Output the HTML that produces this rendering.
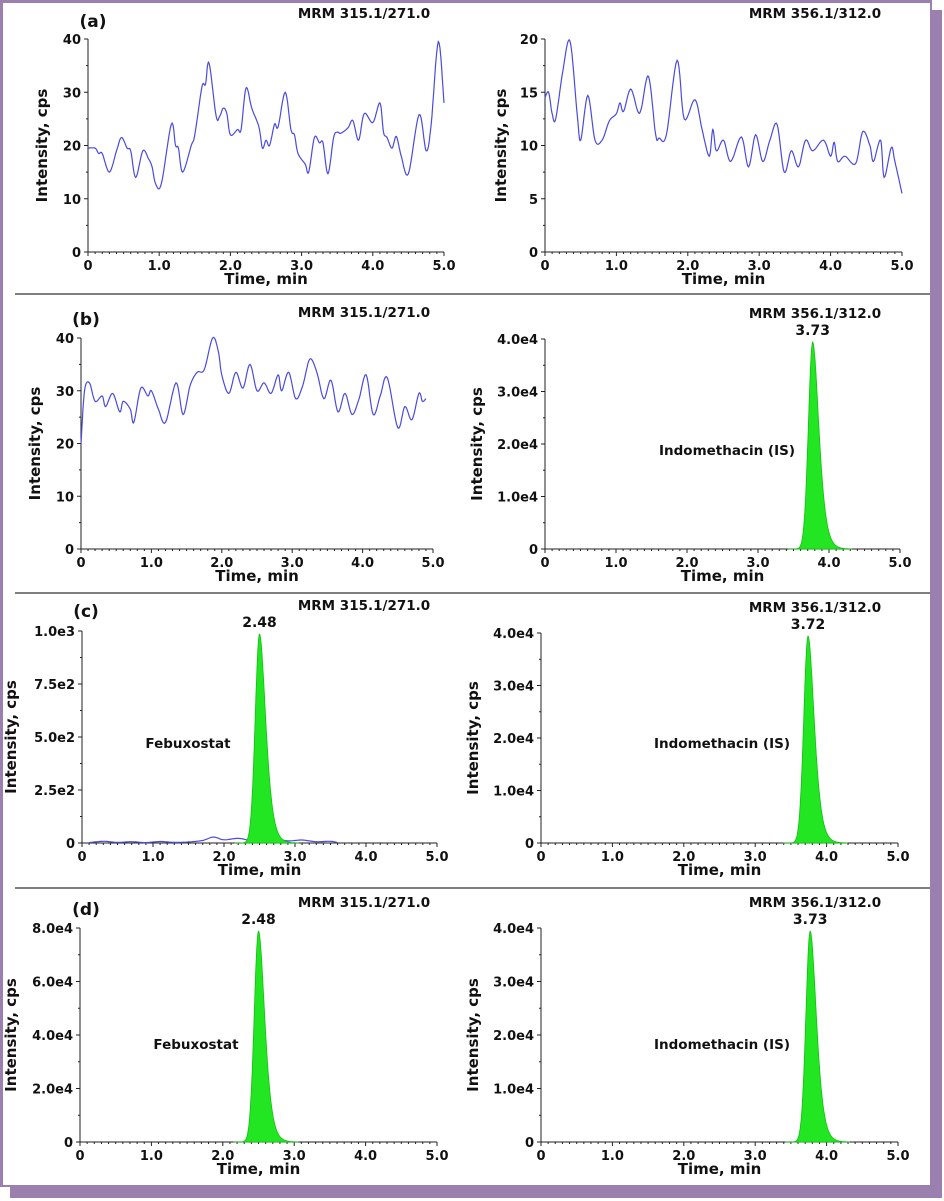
<!DOCTYPE html>
<html><head><meta charset="utf-8"><style>
html,body{margin:0;padding:0;background:#fff}
svg{display:block}
text{font-family:"DejaVu Sans","Liberation Sans",sans-serif;font-weight:bold;fill:#111}
</style></head><body>
<svg id="s" width="944" height="1201" xmlns="http://www.w3.org/2000/svg">
<rect x="0" y="0" width="944" height="1201" fill="#fff"/>
<rect x="10" y="10" width="932" height="1188" fill="#9b7fae"/>
<rect x="0" y="0" width="932" height="1187" fill="#9b7fae"/>
<rect x="3" y="3" width="927" height="1182" fill="#fff"/>
<line x1="15" y1="294" x2="930" y2="294" stroke="#333" stroke-width="1.3"/>
<line x1="15" y1="593" x2="930" y2="593" stroke="#333" stroke-width="1.3"/>
<line x1="15" y1="888" x2="930" y2="888" stroke="#333" stroke-width="1.3"/>
<g id="g"></g>
</svg>
<script>
var g=document.getElementById('g');var out='';
function T(x,y,s,fs,anchor,extra){out+='<text x="'+x+'" y="'+y+'" font-size="'+fs+'" text-anchor="'+(anchor||'start')+'" '+(extra||'')+'>'+s+'</text>';}
function panel(p){
 var X0=p.x0,X1=p.x1,Y0=p.y0,Y1=p.y1;
 function px(t){return X0+(X1-X0)*t/5;}
 function py(v){return Y0-(Y0-Y1)*v/p.ymax;}
 out+='<line x1="'+X0+'" y1="'+Y1+'" x2="'+X0+'" y2="'+Y0+'" stroke="#222" stroke-width="1"/>';
 out+='<line x1="'+X0+'" y1="'+Y0+'" x2="'+X1+'" y2="'+Y0+'" stroke="#222" stroke-width="1"/>';
 for(var i=0;i<=50;i++){var x=px(i/10);out+='<line x1="'+x+'" y1="'+Y0+'" x2="'+x+'" y2="'+(Y0+(i%10==0?4:2))+'" stroke="#222"/>';}
 for(var i=0;i<=p.ny*2;i++){var y=Y0-(Y0-Y1)*i/(p.ny*2);out+='<line x1="'+X0+'" y1="'+y+'" x2="'+(X0-(i%2==0?4:2))+'" y2="'+y+'" stroke="#222"/>';}
 for(var i=0;i<=p.ny;i++){var y=Y0-(Y0-Y1)*i/p.ny;T(X0-7,y+5,p.yl[i],13,'end');}
 var xl=['0','1.0','2.0','3.0','4.0','5.0'];
 for(var i=0;i<6;i++)T(px(i),Y0+18,xl[i],13,'middle');
 T((X0+X1)/2,Y0+32,'Time, min',15,'middle');
 var yc=(Y0+Y1)/2;T(p.lx,yc,'Intensity, cps',15,'middle','transform="rotate(-90 '+p.lx+' '+yc+')"');
 T(p.tx,Y1-21,p.title,13.5,'middle');
 if(p.pts){var pts=p.pts,d='';
  for(var i=0;i<pts.length-1;i++){var p0=pts[Math.max(0,i-1)],p1=pts[i],p2=pts[i+1],p3=pts[Math.min(pts.length-1,i+2)];
   for(var k=0;k<8;k++){var u=k/8,u2=u*u,u3=u2*u;
    var f=function(a,b,c,e){return 0.5*((2*b)+(-a+c)*u+(2*a-5*b+4*c-e)*u2+(-a+3*b-3*c+e)*u3);};
    var t=f(p0[0],p1[0],p2[0],p3[0]),v=f(p0[1],p1[1],p2[1],p3[1]);
    d+=(d?'L':'M')+px(t).toFixed(1)+' '+py(v).toFixed(1);}}
  var l=pts[pts.length-1];d+='L'+px(l[0]).toFixed(1)+' '+py(l[1]).toFixed(1);
  out+='<path d="'+d+'" fill="none" stroke="#4a4ae0" stroke-width="1.2"/>';}
 if(p.peak){var t0=p.peak,d='M'+px(t0-0.35)+' '+Y0;
  for(var t=t0-0.35;t<=t0+0.55;t+=0.005){var s=t<t0?0.06:0.075+(t-t0)*0.12;var v=Math.exp(-0.5*Math.pow((t-t0)/s,2));d+='L'+px(t).toFixed(1)+' '+(Y0-(Y0-Y1)*0.985*v).toFixed(1);}
  d+='L'+px(t0+0.55)+' '+Y0+'Z';out+='<path d="'+d+'" fill="#22e622" stroke="#10c010" stroke-width="0.8"/>';
  T(px(t0),Y1-4,p.plab,14,'middle');T(p.nx,p.ny2,p.name,13.5,'middle');}
 if(p.lab)T(p.lab[0],p.lab[1],p.lab[2],17,'middle');
}
var A1=[[0,19.5],[0.1,19.5],[0.15,18.5],[0.2,18.5],[0.3,15],[0.4,19],[0.47,21.5],[0.55,19.5],[0.6,19],[0.67,14],[0.77,19],[0.85,17.5],[0.9,16],[0.95,12.8],[1.03,12.8],[1.17,24],[1.23,20],[1.27,19.5],[1.33,15],[1.45,20],[1.5,22],[1.6,31],[1.65,31.5],[1.7,35.5],[1.8,25.5],[1.85,25.5],[1.9,27],[1.95,26],[2.0,22],[2.1,23],[2.15,23],[2.22,30.8],[2.3,27],[2.4,23.5],[2.45,19.5],[2.5,21],[2.55,20],[2.62,24],[2.67,23.5],[2.77,30],[2.85,23],[2.9,22],[2.95,18.5],[3.05,16.5],[3.1,15],[3.18,21.5],[3.25,20.5],[3.3,20.5],[3.37,14.7],[3.45,21.5],[3.5,22.5],[3.55,22.3],[3.65,23.3],[3.72,24.7],[3.8,21],[3.88,26],[4.0,24.3],[4.1,28],[4.15,22.5],[4.2,21.5],[4.27,19.5],[4.33,21.7],[4.4,18],[4.5,14.7],[4.65,25.8],[4.75,19],[4.82,24],[4.92,39.5],[5.0,28]];
var A2=[[0,14.5],[0.05,15],[0.1,13],[0.15,12.5],[0.25,17],[0.35,19.8],[0.45,13],[0.5,10.5],[0.6,14.7],[0.7,10.5],[0.8,10.5],[0.9,12.3],[1.0,13],[1.05,14],[1.1,13.2],[1.2,15.3],[1.3,13.2],[1.35,13.5],[1.45,16.5],[1.55,11],[1.6,10.7],[1.7,11],[1.85,18],[1.95,12.5],[2.1,14.3],[2.2,11.5],[2.3,9],[2.35,11.5],[2.4,9.5],[2.5,10.5],[2.6,8.5],[2.75,10.8],[2.85,8],[2.95,11],[3.05,8.5],[3.15,10.5],[3.25,12],[3.35,7.5],[3.45,9.5],[3.55,8],[3.65,10.5],[3.75,9.5],[3.9,10.5],[4.0,9],[4.05,10.3],[4.1,8.5],[4.2,9],[4.35,8.3],[4.45,11.3],[4.55,10],[4.6,8.5],[4.7,10.5],[4.75,7],[4.85,9.8],[4.9,8.5],[5.0,5.5]];
var B1=[[0,20],[0.05,30],[0.12,31.5],[0.2,28],[0.3,29],[0.35,27],[0.45,29.5],[0.55,26],[0.6,28],[0.7,26.5],[0.75,24],[0.85,30.5],[0.95,29],[1.0,30],[1.1,26.5],[1.2,24],[1.35,31.5],[1.45,25.5],[1.55,31],[1.65,33.5],[1.75,34],[1.87,40],[1.95,37.5],[2.0,33],[2.1,29.5],[2.2,33.5],[2.3,30.5],[2.4,35],[2.5,30],[2.6,31.5],[2.7,29.5],[2.8,33],[2.85,30],[2.95,33.5],[3.05,28.5],[3.15,31],[3.25,36],[3.35,33.5],[3.45,28.5],[3.55,32],[3.65,26],[3.75,29.5],[3.85,25.5],[3.95,28.5],[4.05,33],[4.15,25.5],[4.25,29],[4.35,32.5],[4.5,23],[4.6,27],[4.7,24.5],[4.8,29.5],[4.85,28],[4.9,28.5]];
var C1=[[0.1,2],[0.3,8],[0.5,3],[0.7,6],[0.9,2],[1.1,7],[1.3,3],[1.5,5],[1.7,12],[1.85,28],[2.0,15],[2.2,22],[2.4,12],[2.7,20],[2.9,10],[3.1,14],[3.3,6],[3.5,8],[3.6,2]];
var e4=['0','1.0e4','2.0e4','3.0e4','4.0e4'];
panel({x0:88,x1:444,y0:252,y1:39,ymax:40,ny:4,yl:['0','10','20','30','40'],lx:47,tx:364,title:'MRM 315.1/271.0',pts:A1,lab:[93,27,'(a)']});
panel({x0:545,x1:902,y0:252,y1:39,ymax:20,ny:4,yl:['0','5','10','15','20'],lx:506,tx:815,title:'MRM 356.1/312.0',pts:A2});
panel({x0:81,x1:433,y0:549,y1:338,ymax:40,ny:4,yl:['0','10','20','30','40'],lx:40,tx:364,title:'MRM 315.1/271.0',pts:B1,lab:[86,325,'(b)']});
panel({x0:545,x1:900,y0:549,y1:339,ymax:4,ny:4,yl:e4,lx:482,tx:815,title:'MRM 356.1/312.0',peak:3.77,plab:'3.73',nx:727,ny2:455,name:'Indomethacin (IS)'});
panel({x0:82,x1:437,y0:843,y1:631,ymax:1000,ny:4,yl:['0','2.5e2','5.0e2','7.5e2','1.0e3'],lx:16,tx:364,title:'MRM 315.1/271.0',pts:C1,peak:2.5,plab:'2.48',nx:188,ny2:748,name:'Febuxostat',lab:[86,617,'(c)']});
panel({x0:541,x1:898,y0:843,y1:633,ymax:4,ny:4,yl:e4,lx:478,tx:815,title:'MRM 356.1/312.0',peak:3.74,plab:'3.72',nx:722,ny2:748,name:'Indomethacin (IS)'});
panel({x0:80,x1:437,y0:1142,y1:928,ymax:8,ny:4,yl:['0','2.0e4','4.0e4','6.0e4','8.0e4'],lx:16,tx:364,title:'MRM 315.1/271.0',peak:2.5,plab:'2.48',nx:196,ny2:1049,name:'Febuxostat',lab:[86,915,'(d)']});
panel({x0:541,x1:898,y0:1142,y1:928,ymax:4,ny:4,yl:e4,lx:478,tx:815,title:'MRM 356.1/312.0',peak:3.77,plab:'3.73',nx:722,ny2:1049,name:'Indomethacin (IS)'});
g.innerHTML=out;
</script>
</body></html>
